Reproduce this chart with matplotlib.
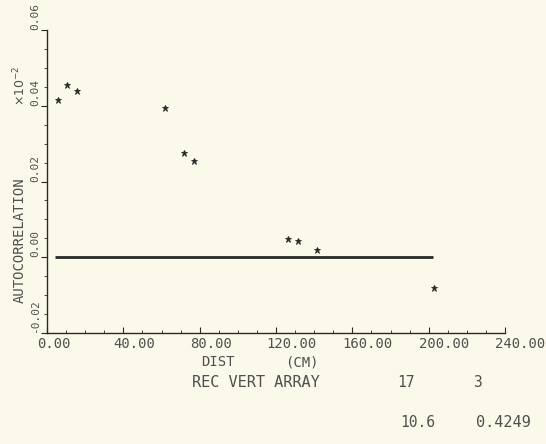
import matplotlib
matplotlib.use("Agg")
import matplotlib.pyplot as plt
import matplotlib.transforms as mtransforms
from matplotlib.ticker import MultipleLocator

# data
dist_cm = [5.6, 10.7, 15.9, 62.0, 72.0, 77.2, 126.5, 131.4, 141.7, 203.0]
autocorr = [0.0415, 0.0454, 0.0439, 0.0393, 0.0274, 0.0253, 0.0048, 0.0043, 0.0019, -0.0082]
zero_line_x = [4.0, 202.0]
zero_line_y = [0.0, 0.0]

x_ticks = [0, 40, 80, 120, 160, 200, 240]
x_ticklabels = ["0.00", "40.00", "80.00", "120.00", "160.00", "200.00", "240.00"]
y_ticks = [-0.02, 0.00, 0.02, 0.04, 0.06]
y_ticklabels = ["-0.02", "0.00", "0.02", "0.04", "0.06"]

bg = "#fbf9e9"
ink = "#2a2a2a"
txt = "#505050"
font = "DejaVu Sans Mono"

fig = plt.figure(figsize=(5.46, 4.44), dpi=100, facecolor=bg)
ax = fig.add_axes([0.0861, 0.25, 0.839, 0.6824], facecolor=bg)

ax.plot(zero_line_x, zero_line_y, color=ink, linewidth=2.0, solid_capstyle="butt")
ax.plot(dist_cm, autocorr, linestyle="none", marker="*", markersize=4.5,
        color=ink, markeredgewidth=0.6)

ax.set_xlim(0, 240)
ax.set_ylim(-0.02, 0.06)

ax.spines['top'].set_visible(False)
ax.spines['right'].set_visible(False)
ax.spines['left'].set_color(ink)
ax.spines['bottom'].set_color(ink)
ax.spines['left'].set_linewidth(1.0)
ax.spines['bottom'].set_linewidth(1.0)

ax.set_xticks(x_ticks)
ax.set_xticklabels(x_ticklabels, family=font, fontsize=10, color=txt, ha="left")
ax.set_yticks(y_ticks)
ax.set_yticklabels(y_ticklabels, family=font, fontsize=8, color=txt,
                   rotation=90, va="bottom")
ax.xaxis.set_minor_locator(MultipleLocator(10))
ax.yaxis.set_minor_locator(MultipleLocator(0.005))
ax.tick_params(axis='x', which='major', direction='in', length=4, width=0.8,
               color=ink, pad=3)
ax.tick_params(axis='x', which='minor', direction='in', length=2, width=0.6, color=ink)
ax.tick_params(axis='y', which='major', direction='out', length=4, width=0.8,
               color=ink, pad=1)
ax.tick_params(axis='y', which='minor', direction='out', length=2, width=0.6, color=ink)

# shift x tick labels so they start a little left of each tick
offset = mtransforms.ScaledTranslation(-10 / 100, 0, fig.dpi_scale_trans)
for lab in ax.get_xticklabels():
    lab.set_transform(lab.get_transform() + offset)

fig.text(20 / 546, 1 - 240 / 444, "AUTOCORRELATION", rotation=90, family=font,
         fontsize=10, color=txt, ha="center", va="center")
fig.text(20 / 546, 1 - 86 / 444, r"$\times10^{-2}$", rotation=90,
         fontsize=9, color=txt, ha="center", va="center")

fig.text(218 / 546, 1 - 362 / 444, "DIST", family=font, fontsize=10,
         color=txt, ha="center", va="center")
fig.text(302 / 546, 1 - 362 / 444, "(CM)", family=font, fontsize=10,
         color=txt, ha="center", va="center")
fig.text(256 / 546, 1 - 382 / 444, "REC VERT ARRAY", family=font, fontsize=11,
         color=txt, ha="center", va="center")
fig.text(406 / 546, 1 - 382 / 444, "17", family=font, fontsize=10.5,
         color=txt, ha="center", va="center")
fig.text(477 / 546, 1 - 382 / 444, "3", family=font, fontsize=10.5,
         color=txt, ha="center", va="center")
fig.text(418 / 546, 1 - 422 / 444, "10.6", family=font, fontsize=10.5,
         color=txt, ha="center", va="center")
fig.text(503 / 546, 1 - 422 / 444, "0.4249", family=font, fontsize=11,
         color=txt, ha="center", va="center")

fig.savefig("out.png", dpi=100, facecolor=bg)
